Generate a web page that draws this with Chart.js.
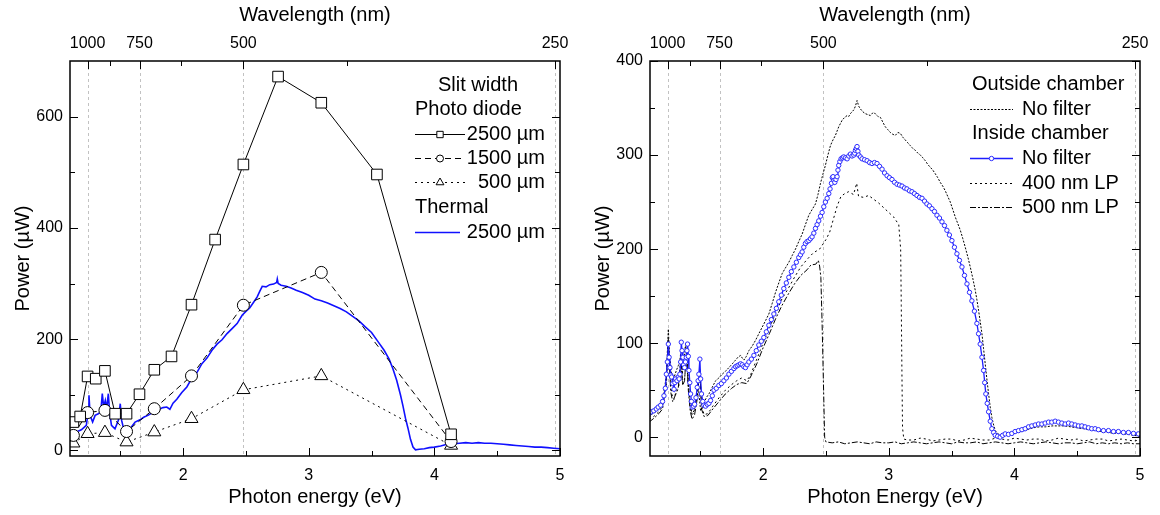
<!DOCTYPE html>
<html>
<head>
<meta charset="utf-8">
<script src="https://cdn.jsdelivr.net/npm/chart.js@4.4.1/dist/chart.umd.min.js"></script>
<style>
  html, body { margin: 0; padding: 0; background: #fff; }
  #wrap { display: flex; width: 1160px; height: 515px; }
  .box { position: relative; width: 580px; height: 515px; }
</style>
</head>
<body>
<div id="wrap">
  <div class="box"><canvas id="left"></canvas></div>
  <div class="box"><canvas id="right"></canvas></div>
</div>
<script>
// axis ticks
const energyTicks = [2, 3, 4, 5];
const energyMinor = [1.5, 2.5, 3.5, 4.5];
const wavelengthTicks = [1000, 875, 750, 625, 500, 375, 250];
const wavelengthLabels = ['1000', '', '750', '', '500', '', '250'];
const leftPowerTicks = [0, 200, 400, 600];
const leftPowerMinor = [100, 300, 500];
const rightPowerTicks = [0, 100, 200, 300, 400];
const rightPowerMinor = [50, 150, 250, 350];

// left panel: photo diode, slit widths (energies of 1100..300 nm)
const pdEnergy2500 = [1.127, 1.181, 1.240, 1.305, 1.378, 1.459, 1.550, 1.653, 1.771, 1.908, 2.067, 2.255, 2.480, 2.756, 3.100, 3.543, 4.133];
const pdPower2500 = [51, 61, 133, 129, 143, 66, 66, 101, 145, 169, 262, 379, 514, 672, 625, 496, 29];
const pdEnergyCoarse = [1.127, 1.240, 1.378, 1.550, 1.771, 2.067, 2.480, 3.100, 4.133];
const pdPower1500 = [27, 68, 72, 34, 75, 134, 261, 320, 16];
const pdPower500 = [13, 30, 32, 15, 33, 57, 109, 134, 9];

// left panel: thermal sensor, 2500 um
const thermal2500 = [[1.10,29],[1.13,31],[1.16,34],[1.19,37],[1.21,41],[1.23,45],[1.245,70],[1.251,99],[1.257,75],[1.265,60],[1.28,51],[1.30,63],
  [1.325,66],[1.345,69],[1.357,102],[1.368,78],[1.381,90],[1.392,75],[1.405,102],[1.415,69],[1.43,45],[1.458,39],[1.485,54],[1.50,84],[1.511,54],
  [1.53,36],[1.551,30],[1.578,39],[1.618,51],[1.657,55],[1.69,60],[1.72,63],[1.75,67],[1.78,72],[1.81,74],[1.84,77],[1.87,78],[1.895,74],[1.92,85],
  [1.95,92],[1.99,104],[2.03,114],[2.07,130],[2.11,140],[2.15,156],[2.19,166],[2.23,180],[2.27,191],[2.31,199],[2.35,210],[2.39,219],[2.43,228],
  [2.47,243],[2.50,250],[2.53,256],[2.56,266],[2.59,276],[2.61,286],[2.63,295],[2.66,294],[2.69,298],[2.72,299],[2.745,302],[2.75,308],[2.757,300],
  [2.78,297],[2.82,295],[2.86,292],[2.90,288],[2.95,284],[3.00,279],[3.05,272],[3.10,269],[3.15,265],[3.20,260],[3.25,255],[3.30,249],[3.35,241],
  [3.40,233],[3.45,222],[3.50,212],[3.55,196],[3.60,180],[3.64,164],[3.67,147],[3.70,126],[3.73,100],[3.75,80],[3.77,58],[3.79,40],[3.81,20],
  [3.83,6],[3.85,1],[3.88,2],[3.92,3],[3.96,5],[4.00,6],[4.05,8],[4.10,11],[4.15,12],[4.20,13],[4.25,14],[4.30,13],[4.35,14],[4.40,13],[4.45,13],
  [4.50,12],[4.55,11],[4.60,10],[4.65,9],[4.70,8],[4.75,7],[4.80,6],[4.85,6],[4.90,5],[4.95,4],[5.00,3]];

// right panel: inside chamber, no filter
const insideNoFilter = [[1.092,25],[1.11,27],[1.13,28],[1.15,30],[1.165,32],[1.185,34],[1.20,38],[1.211,44],[1.222,52],[1.23,67],[1.238,80],
  [1.246,99],[1.252,85],[1.259,74],[1.265,66],[1.272,64],[1.281,57],[1.291,51],[1.298,58],[1.304,62],[1.315,60],[1.325,64],[1.332,62],[1.338,67],
  [1.344,80],[1.349,101],[1.355,92],[1.362,85],[1.368,77],[1.375,74],[1.382,80],[1.389,85],[1.394,92],[1.399,99],[1.405,86],[1.41,71],[1.417,58],
  [1.423,46],[1.43,38],[1.436,32],[1.446,33],[1.455,35],[1.466,42],[1.476,53],[1.483,60],[1.489,67],[1.497,83],[1.503,62],[1.51,46],[1.52,38],
  [1.529,34],[1.542,33],[1.556,35],[1.569,36],[1.582,39],[1.596,44],[1.609,50],[1.628,52],[1.648,55],[1.668,57],[1.688,60],[1.708,63],[1.728,67],
  [1.748,70],[1.768,73],[1.781,75],[1.794,76],[1.808,77],[1.821,78],[1.834,77],[1.847,75],[1.86,74],[1.873,77],[1.887,80],[1.907,83],[1.927,87],
  [1.946,92],[1.966,98],[1.986,102],[2.006,106],[2.026,112],[2.046,119],[2.066,125],[2.086,131],[2.106,137],[2.125,144],[2.145,151],[2.165,158],
  [2.185,164],[2.205,170],[2.225,176],[2.245,181],[2.265,186],[2.284,191],[2.298,194],[2.311,197],[2.324,202],[2.337,206],[2.35,208],[2.364,209],
  [2.377,211],[2.39,213],[2.404,217],[2.417,222],[2.43,226],[2.443,230],[2.457,235],[2.47,239],[2.483,245],[2.496,250],[2.51,254],[2.523,259],
  [2.533,264],[2.544,270],[2.551,276],[2.557,277],[2.564,273],[2.571,271],[2.58,274],[2.589,277],[2.596,284],[2.602,289],[2.611,293],[2.621,296],
  [2.631,297],[2.642,298],[2.655,297],[2.669,296],[2.682,299],[2.695,301],[2.708,299],[2.722,300],[2.729,302],[2.735,305],[2.742,307],[2.748,309],
  [2.755,304],[2.761,300],[2.775,298],[2.788,296],[2.808,295],[2.828,294],[2.848,292],[2.867,291],[2.887,292],[2.907,291],[2.927,288],[2.947,285],
  [2.967,281],[2.987,278],[3.006,276],[3.026,274],[3.046,271],[3.066,269],[3.086,268],[3.106,267],[3.126,265],[3.145,264],[3.165,262],[3.185,261],
  [3.205,259],[3.225,257],[3.245,255],[3.265,254],[3.285,251],[3.304,248],[3.324,246],[3.344,243],[3.364,240],[3.384,236],[3.404,233],[3.424,229],
  [3.444,225],[3.463,220],[3.483,215],[3.503,209],[3.523,202],[3.543,195],[3.563,188],[3.583,181],[3.603,172],[3.623,163],[3.643,154],[3.662,145],
  [3.682,134],[3.702,121],[3.715,110],[3.728,99],[3.742,85],[3.755,71],[3.764,58],[3.773,46],[3.784,36],[3.795,27],[3.808,17],[3.821,9],[3.835,5],
  [3.848,2],[3.867,1],[3.887,0],[3.907,2],[3.927,3.5],[3.953,3],[3.98,4],[4.006,6],[4.033,7],[4.06,8],[4.086,9],[4.113,11],[4.139,12],[4.166,13],
  [4.192,14],[4.219,14],[4.245,15],[4.272,16],[4.298,16],[4.325,17],[4.351,16],[4.378,15],[4.404,14],[4.431,15],[4.457,14],[4.484,13],[4.51,12],
  [4.537,12],[4.563,11],[4.59,10],[4.616,9],[4.643,9],[4.669,8],[4.709,7],[4.749,7],[4.789,6],[4.828,6],[4.868,5],[4.908,5],[4.948,4],[4.987,3.5]];

// right panel: outside chamber, no filter
const outsideNoFilter = [[1.092,21],[1.12,25],[1.145,27],[1.17,32],[1.198,39],[1.22,55],[1.232,72],[1.246,115],[1.255,88],[1.264,78],[1.272,66],
  [1.283,60],[1.295,65],[1.31,71],[1.325,76],[1.336,80],[1.344,89],[1.352,76],[1.357,67],[1.366,80],[1.376,90],[1.383,99],[1.39,86],[1.4,74],
  [1.405,60],[1.415,42],[1.425,30],[1.431,25],[1.44,26],[1.45,28],[1.462,36],[1.475,48],[1.484,58],[1.49,45],[1.497,36],[1.503,28],[1.52,33],
  [1.537,39],[1.553,43],[1.569,46],[1.595,53],[1.622,60],[1.648,63],[1.675,67],[1.70,70],[1.728,74],[1.755,78],[1.781,82],[1.80,85],[1.821,87],
  [1.835,84],[1.848,82],[1.867,86],[1.887,92],[1.914,97],[1.94,103],[1.966,110],[1.993,117],[2.02,124],[2.046,131],[2.072,142],[2.099,154],
  [2.125,164],[2.152,174],[2.178,180],[2.205,186],[2.231,193],[2.258,200],[2.284,208],[2.311,216],[2.337,226],[2.364,236],[2.39,242],[2.417,248],
  [2.437,258],[2.457,270],[2.477,280],[2.496,289],[2.516,300],[2.536,310],[2.556,316],[2.576,321],[2.602,330],[2.629,337],[2.649,340],[2.669,342],
  [2.682,341],[2.695,344],[2.708,346],[2.722,348],[2.735,352],[2.748,358],[2.761,352],[2.775,349],[2.794,346],[2.814,344],[2.834,343],[2.854,342],
  [2.874,345],[2.894,344],[2.914,341],[2.934,340],[2.953,335],[2.973,330],[2.993,327],[3.013,324],[3.033,322],[3.053,321],[3.073,324],[3.093,323],
  [3.112,319],[3.132,316],[3.152,313],[3.172,310],[3.192,307],[3.212,305],[3.232,302],[3.252,300],[3.272,297],[3.291,294],[3.311,290],[3.331,287],
  [3.351,284],[3.371,280],[3.39,276],[3.41,271],[3.43,267],[3.45,262],[3.47,256],[3.49,250],[3.51,242],[3.53,234],[3.55,227],[3.57,220],[3.59,211],
  [3.609,202],[3.629,192],[3.649,181],[3.669,169],[3.689,156],[3.702,146],[3.715,135],[3.728,123],[3.742,110],[3.755,94],[3.768,78],[3.781,62],
  [3.795,46],[3.808,32],[3.821,21],[3.835,13],[3.848,7],[3.867,4],[3.887,2],[3.92,3],[3.95,4],[3.98,4],[4.02,5],[4.05,6],[4.08,7],[4.1,8],[4.15,10],
  [4.2,11],[4.25,11],[4.3,12],[4.35,12],[4.4,12],[4.45,11],[4.5,10],[4.55,9],[4.6,8],[4.65,7],[4.7,6],[4.75,5],[4.8,4],[4.85,4],[4.9,3],[4.95,2],[5.0,1]];

// right panel: inside chamber, 400 nm long pass
const inside400LP = [[1.092,19],[1.13,22],[1.17,27],[1.20,33],[1.23,55],[1.246,98],[1.26,62],[1.275,45],[1.29,40],[1.31,50],[1.33,55],[1.345,78],
  [1.36,58],[1.375,62],[1.39,85],[1.405,55],[1.42,35],[1.435,24],[1.455,27],[1.475,45],[1.49,62],[1.497,70],[1.51,35],[1.53,24],[1.56,25],[1.60,33],
  [1.65,42],[1.70,50],[1.75,56],[1.79,60],[1.83,63],[1.87,60],[1.90,66],[1.95,83],[2.00,100],[2.05,116],[2.10,132],[2.15,147],[2.20,158],[2.25,170],
  [2.30,181],[2.35,189],[2.40,196],[2.45,200],[2.50,210],[2.53,218],[2.56,232],[2.59,246],[2.62,256],[2.65,259],[2.68,261],[2.72,258],[2.745,270],
  [2.76,256],[2.80,255],[2.84,257],[2.88,253],[2.92,249],[2.96,244],[3.00,239],[3.04,234],[3.08,226],[3.095,200],[3.10,140],[3.105,70],[3.11,10],
  [3.12,-2],[3.15,-3],[3.2,-3],[3.25,-1],[3.3,-2],[3.35,-4],[3.4,-3],[3.45,-2],[3.5,-2],[3.55,-4],[3.6,-3],[3.65,-1],[3.7,-2],[3.75,-3],[3.8,-3],
  [3.85,-1],[3.9,-2],[3.95,-3],[4.0,-1],[4.05,-2],[4.1,-3],[4.15,-2],[4.2,-2],[4.25,-4],[4.3,-3],[4.35,-1],[4.4,-2],[4.45,-3],[4.5,-2],[4.55,-4],
  [4.6,-3],[4.65,-2],[4.7,-2],[4.75,-4],[4.8,-3],[4.85,-2],[4.9,-3],[4.95,-4],[5.0,-3]];

// right panel: inside chamber, 500 nm long pass
const inside500LP = [[1.092,16],[1.13,20],[1.17,25],[1.20,30],[1.23,60],[1.246,105],[1.255,75],[1.265,48],[1.28,38],[1.30,44],[1.325,52],
  [1.345,85],[1.36,55],[1.375,60],[1.39,92],[1.405,50],[1.42,28],[1.435,19],[1.455,24],[1.475,40],[1.49,60],[1.497,72],[1.51,30],[1.53,22],
  [1.56,23],[1.60,30],[1.65,38],[1.70,46],[1.75,52],[1.79,56],[1.83,58],[1.87,57],[1.90,64],[1.95,78],[2.00,95],[2.05,110],[2.10,126],[2.15,140],
  [2.20,152],[2.25,163],[2.30,172],[2.35,178],[2.38,183],[2.42,184],[2.44,188],[2.45,182],[2.46,170],[2.47,120],[2.48,60],[2.49,0],[2.50,-5],
  [2.55,-6],[2.6,-5],[2.65,-7],[2.7,-6],[2.75,-5],[2.8,-6],[2.85,-7],[2.9,-5],[2.95,-6],[3.0,-6],[3.05,-5],[3.1,-7],[3.15,-6],[3.2,-5],[3.25,-6],
  [3.3,-7],[3.35,-6],[3.4,-5],[3.45,-6],[3.5,-7],[3.55,-5],[3.6,-6],[3.65,-6],[3.7,-5],[3.75,-7],[3.8,-6],[3.85,-5],[3.9,-6],[3.95,-7],[4.0,-6],
  [4.05,-5],[4.1,-6],[4.15,-7],[4.2,-6],[4.25,-5],[4.3,-6],[4.35,-7],[4.4,-6],[4.45,-6],[4.5,-7],[4.55,-6],[4.6,-5],[4.65,-7],[4.7,-6],[4.75,-7],
  [4.8,-6],[4.85,-7],[4.9,-6],[4.95,-7],[5.0,-7]];

Chart.defaults.font.family = "'Liberation Sans', Arial, sans-serif";
Chart.defaults.color = '#000';

const FONT = "'Liberation Sans', Arial, sans-serif";
const eV = nm => 1240 / nm;
const toXY = pairs => pairs.map(p => ({x: p[0], y: p[1]}));
const zip = (xs, ys) => xs.map((x, i) => ({x: x, y: ys[i]}));

function axes(yMin, yMax, yMajor, xTitle) {
  return {
    x: {
      type: 'linear', position: 'bottom', min: 1.1, max: 5,
      afterBuildTicks: s => { s.ticks = energyTicks.map(v => ({value: v})); },
      afterFit: s => { s.height = 59; },
      ticks: {font: {size: 16}, padding: 10, maxRotation: 0, autoSkip: false},
      grid: {display: false, drawTicks: false},
      border: {display: false},
      title: {display: true, text: xTitle, font: {size: 20}, padding: {top: 0, bottom: 6}}
    },
    x2: {
      type: 'linear', position: 'top', min: 1.1, max: 5,
      afterBuildTicks: s => { s.ticks = wavelengthTicks.map(w => ({value: eV(w)})); },
      afterFit: s => { s.height = 61; },
      ticks: {font: {size: 16}, padding: 8, maxRotation: 0, autoSkip: false,
              callback: (v, i) => wavelengthLabels[i]},
      grid: {display: false, drawTicks: false},
      border: {display: false},
      title: {display: true, text: 'Wavelength (nm)', font: {size: 20}, padding: {top: 3, bottom: 0}}
    },
    y: {
      min: yMin, max: yMax,
      afterBuildTicks: s => { s.ticks = yMajor.map(v => ({value: v})); },
      afterFit: s => { s.width = 70; },
      ticks: {font: {size: 16}, padding: 7},
      grid: {display: false, drawTicks: false},
      border: {display: false},
      title: {display: true, text: 'Power (µW)', font: {size: 20}, padding: {top: 11, bottom: 0}}
    }
  };
}

function marker(ctx, style, r, x, y) {
  ctx.beginPath();
  if (style === 'rect') {
    const h = r * Math.SQRT1_2;
    ctx.rect(x - h, y - h, 2 * h, 2 * h);
  } else if (style === 'triangle') {
    for (let k = 0; k < 3; k++) {
      const a = k * 2 * Math.PI / 3;
      const px = x + Math.sin(a) * r, py = y - Math.cos(a) * r;
      k ? ctx.lineTo(px, py) : ctx.moveTo(px, py);
    }
    ctx.closePath();
  } else {
    ctx.arc(x, y, r, 0, 2 * Math.PI);
  }
  ctx.fill();
  ctx.stroke();
}

const decorations = {
  id: 'decorations',
  beforeDatasetsDraw(chart) {
    const {ctx, chartArea: a, scales} = chart;
    ctx.save();
    ctx.strokeStyle = '#c2c2c2';
    ctx.lineWidth = 1;
    ctx.setLineDash([3, 3]);
    wavelengthTicks.forEach((w, i) => {
      if (!wavelengthLabels[i]) return;
      const x = Math.round(scales.x2.getPixelForValue(eV(w))) + 0.5;
      ctx.beginPath(); ctx.moveTo(x, a.top); ctx.lineTo(x, a.bottom); ctx.stroke();
    });
    ctx.restore();
  },
  afterDraw(chart, args, opts) {
    const {ctx, chartArea: a, scales} = chart;
    ctx.save();
    ctx.strokeStyle = '#000';
    ctx.lineWidth = 1;
    const seg = (x0, y0, x1, y1) => { ctx.beginPath(); ctx.moveTo(x0, y0); ctx.lineTo(x1, y1); ctx.stroke(); };
    const hx = v => Math.round(scales.x.getPixelForValue(v)) + 0.5;
    const vy = v => Math.round(scales.y.getPixelForValue(v)) + 0.5;
    energyTicks.forEach(v => seg(hx(v), a.bottom, hx(v), a.bottom - 8));
    energyMinor.forEach(v => seg(hx(v), a.bottom, hx(v), a.bottom - 5));
    wavelengthTicks.forEach((w, i) => {
      const x = Math.round(scales.x2.getPixelForValue(eV(w))) + 0.5;
      seg(x, a.top, x, a.top + (wavelengthLabels[i] ? 8 : 5));
    });
    scales.y.ticks.forEach(t => {
      seg(a.left, vy(t.value), a.left + 8, vy(t.value));
      seg(a.right, vy(t.value), a.right - 8, vy(t.value));
    });
    opts.yMinor.forEach(v => {
      seg(a.left, vy(v), a.left + 5, vy(v));
      seg(a.right, vy(v), a.right - 5, vy(v));
    });
    ctx.lineWidth = 1.5;
    ctx.strokeRect(a.left, a.top, a.right - a.left, a.bottom - a.top);

    // legend
    ctx.font = '20px ' + FONT;
    ctx.textBaseline = 'middle';
    ctx.fillStyle = '#000';
    opts.legend.forEach(item => {
      if (item.ds === undefined) {
        ctx.textAlign = 'left';
        ctx.fillText(item.text, item.x, item.y);
        return;
      }
      const ds = chart.data.datasets[item.ds];
      ctx.save();
      ctx.strokeStyle = ds.borderColor;
      ctx.lineWidth = ds.borderWidth;
      ctx.setLineDash(ds.borderDash || []);
      seg(item.x0, item.y + 0.5, item.x1, item.y + 0.5);
      ctx.setLineDash([]);
      if (item.r) {
        ctx.fillStyle = ds.pointBackgroundColor;
        ctx.strokeStyle = ds.pointBorderColor;
        ctx.lineWidth = 1;
        marker(ctx, ds.pointStyle, item.r, (item.x0 + item.x1) / 2, item.y + 0.5);
      }
      ctx.restore();
      ctx.textAlign = item.align;
      ctx.fillText(item.text, item.tx, item.y);
    });
    ctx.restore();
  }
};

const blackLine = {borderColor: '#000', borderWidth: 1, pointBackgroundColor: '#fff', pointBorderColor: '#000',
  pointBorderWidth: 1, pointHoverRadius: 0, tension: 0};

new Chart(document.getElementById('left'), {
  type: 'line',
  data: {
    datasets: [
      Object.assign({}, blackLine, {label: '2500 µm', data: zip(pdEnergy2500, pdPower2500), pointStyle: 'rect', pointRadius: 7.5}),
      Object.assign({}, blackLine, {label: '1500 µm', data: zip(pdEnergyCoarse, pdPower1500), pointStyle: 'circle', pointRadius: 6,
        borderDash: [6, 4]}),
      Object.assign({}, blackLine, {label: '500 µm', data: zip(pdEnergyCoarse, pdPower500), pointStyle: 'triangle', pointRadius: 7.5,
        borderDash: [2, 4]}),
      {label: 'Thermal 2500 µm', data: toXY(thermal2500), borderColor: '#1010ff', borderWidth: 1.6, pointRadius: 0, tension: 0}
    ]
  },
  options: {
    responsive: true, maintainAspectRatio: false, animation: false, devicePixelRatio: 1,
    layout: {padding: {left: 0, right: 20, top: 0, bottom: 0}},
    scales: axes(-10, 700, leftPowerTicks, 'Photon energy (eV)'),
    plugins: {
      legend: {display: false}, tooltip: {enabled: false},
      decorations: {
        yMinor: leftPowerMinor,
        legend: [
          {text: 'Slit width', x: 438, y: 85},
          {text: 'Photo diode', x: 415, y: 109},
          {text: '2500 µm', ds: 0, y: 134, x0: 415, x1: 465, r: 4.5, tx: 545, align: 'right'},
          {text: '1500 µm', ds: 1, y: 158, x0: 415, x1: 465, r: 3.5, tx: 545, align: 'right'},
          {text: '500 µm', ds: 2, y: 182, x0: 415, x1: 465, r: 4.5, tx: 545, align: 'right'},
          {text: 'Thermal', x: 415, y: 207},
          {text: '2500 µm', ds: 3, y: 232, x0: 415, x1: 460, tx: 545, align: 'right'}
        ]
      }
    }
  },
  plugins: [decorations]
});

new Chart(document.getElementById('right'), {
  type: 'line',
  data: {
    datasets: [
      {label: 'Inside, no filter', data: toXY(insideNoFilter), borderColor: '#1e1eff', borderWidth: 1.3,
        pointStyle: 'circle', pointRadius: 2.2, pointBorderWidth: 1, pointBackgroundColor: '#fff', pointBorderColor: '#2a2aff',
        pointHoverRadius: 0, tension: 0},
      Object.assign({}, blackLine, {label: 'Outside, no filter', data: toXY(outsideNoFilter), pointRadius: 0, borderDash: [2, 1.5]}),
      Object.assign({}, blackLine, {label: '400 nm LP', data: toXY(inside400LP), pointRadius: 0, borderDash: [2, 3]}),
      Object.assign({}, blackLine, {label: '500 nm LP', data: toXY(inside500LP), pointRadius: 0, borderDash: [6, 2, 2, 2]})
    ]
  },
  options: {
    responsive: true, maintainAspectRatio: false, animation: false, devicePixelRatio: 1,
    layout: {padding: {left: 0, right: 20, top: 0, bottom: 0}},
    scales: axes(-20, 400, rightPowerTicks, 'Photon Energy (eV)'),
    plugins: {
      legend: {display: false}, tooltip: {enabled: false},
      decorations: {
        yMinor: rightPowerMinor,
        legend: [
          {text: 'Outside chamber', x: 392, y: 84},
          {text: 'No filter', ds: 1, y: 109, x0: 390, x1: 433, tx: 442, align: 'left'},
          {text: 'Inside chamber', x: 392, y: 133},
          {text: 'No filter', ds: 0, y: 158, x0: 390, x1: 433, r: 2.2, tx: 442, align: 'left'},
          {text: '400 nm LP', ds: 2, y: 183, x0: 390, x1: 433, tx: 442, align: 'left'},
          {text: '500 nm LP', ds: 3, y: 207, x0: 390, x1: 433, tx: 442, align: 'left'}
        ]
      }
    }
  },
  plugins: [decorations]
});
</script>
</body>
</html>
